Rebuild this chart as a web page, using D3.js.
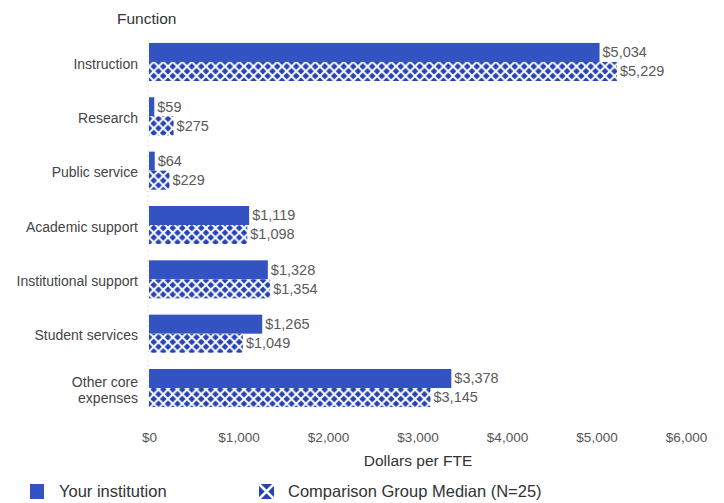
<!DOCTYPE html>
<html>
<head>
<meta charset="utf-8">
<script src="https://cdn.jsdelivr.net/npm/d3@7/dist/d3.min.js"></script>
<style>
  html, body { margin: 0; padding: 0; background: #fff; }
  svg { display: block; }
  text { font-family: "Liberation Sans", Arial, sans-serif; }
</style>
</head>
<body>
<svg id="chart" width="724" height="503"></svg>
<script>
const categories = ["Instruction", "Research", "Public service", "Academic support", "Institutional support", "Student services", "Other core expenses"];
const categoryLabels = [["Instruction"], ["Research"], ["Public service"], ["Academic support"], ["Institutional support"], ["Student services"], ["Other core", "expenses"]];
const yourInstitution = [5034, 59, 64, 1119, 1328, 1265, 3378];
const comparisonMedian = [5229, 275, 229, 1098, 1354, 1049, 3145];
const tickValues = [0, 1000, 2000, 3000, 4000, 5000, 6000];
const seriesNames = ["Your institution", "Comparison Group Median (N=25)"];

const svg = d3.select("#chart");
const solidColor = "#3453c2";
const hatchColor = "#2643b6";

const defs = svg.append("defs");
const pat = defs.append("pattern")
  .attr("id", "hatch").attr("patternUnits", "userSpaceOnUse")
  .attr("width", 9.5).attr("height", 9.5).attr("x", 149).attr("y", 0);
pat.append("rect").attr("width", 9.5).attr("height", 9.5).attr("fill", hatchColor);
pat.append("path").attr("d", "M-1,-1 L10.5,10.5 M10.5,-1 L-1,10.5")
  .attr("stroke", "#fff").attr("stroke-width", 1.9);

const x = d3.scaleLinear().domain([0, 6000]).range([149, 686]);
const y = d3.scaleBand().domain(categories).range([34.8, 415.2]).paddingInner(0.3).paddingOuter(0.15);
const sub = d3.scaleBand().domain([0, 1]).range([0, y.bandwidth()]);

const fmt = v => "$" + d3.format(",")(v);

// faint left guide
svg.append("line").attr("x1", 148).attr("x2", 148).attr("y1", 40).attr("y2", 410)
  .attr("stroke", "#e2e2e2").attr("stroke-width", 1).attr("stroke-dasharray", "2,3");

const g = svg.append("g");
categories.forEach((c, i) => {
  const y0 = y(c);
  const vals = [yourInstitution[i], comparisonMedian[i]];
  vals.forEach((v, k) => {
    const w = Math.max(x(v) - x(0), 2);
    g.append("rect")
      .attr("x", x(0)).attr("y", y0 + sub(k))
      .attr("width", w).attr("height", sub.bandwidth())
      .attr("fill", k === 0 ? solidColor : "url(#hatch)");
    g.append("text")
      .attr("x", x(0) + w + 3).attr("y", y0 + sub(k) + sub.bandwidth() / 2 + 1)
      .attr("dominant-baseline", "middle")
      .attr("font-size", 14.5).attr("fill", "#5a5a5a")
      .text(fmt(v));
  });
  const lines = categoryLabels[i];
  const cy = y0 + y.bandwidth() / 2 + 3;
  const t = g.append("text").attr("text-anchor", "end").attr("font-size", 14).attr("fill", "#444");
  lines.forEach((l, j) => {
    t.append("tspan").attr("x", 138)
      .attr("y", cy + (j - (lines.length - 1) / 2) * 16)
      .attr("dominant-baseline", "middle").text(l);
  });
});

// x axis
const axis = d3.axisBottom(x).tickValues(tickValues).tickFormat(fmt).tickSize(0).tickPadding(0);
const ax = svg.append("g").attr("transform", "translate(0,432)").call(axis);
ax.select(".domain").remove();
ax.selectAll("text").attr("font-size", 13.5).attr("fill", "#555")
  .style("font-family", "'Liberation Sans', Arial, sans-serif");

svg.append("text").attr("x", 418).attr("y", 466).attr("text-anchor", "middle")
  .attr("font-size", 15.5).attr("fill", "#333").text("Dollars per FTE");

svg.append("text").attr("x", 117).attr("y", 24)
  .attr("font-size", 15.5).attr("fill", "#333").text("Function");

// legend
const lg = svg.append("g");
lg.append("rect").attr("x", 30).attr("y", 484).attr("width", 14).attr("height", 15).attr("fill", solidColor);
lg.append("text").attr("x", 59).attr("y", 497).attr("font-size", 16.5).attr("fill", "#333").text(seriesNames[0]);
lg.append("rect").attr("x", 259).attr("y", 484).attr("width", 15).attr("height", 15).attr("fill", hatchColor);
lg.append("path").attr("d", "M259,484 L274,499 M274,484 L259,499").attr("stroke", "#fff").attr("stroke-width", 2.5);
lg.append("text").attr("x", 288).attr("y", 497).attr("font-size", 16.5).attr("fill", "#333").text(seriesNames[1]);
</script>
</body>
</html>
